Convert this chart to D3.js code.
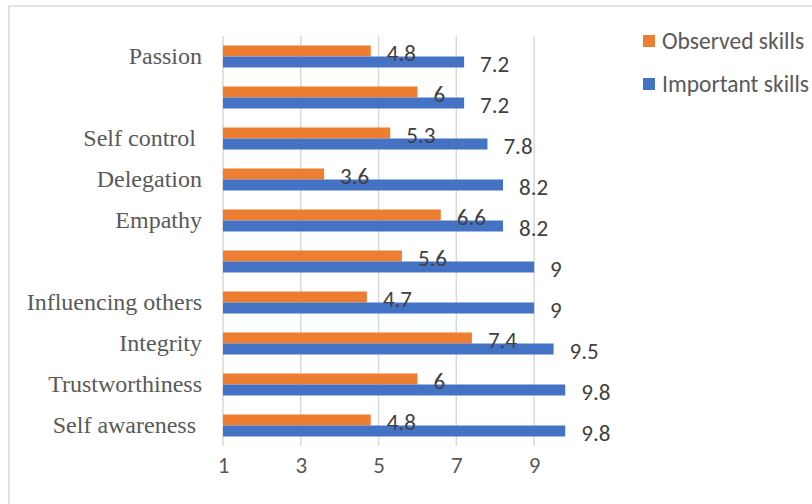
<!DOCTYPE html>
<html>
<head>
<meta charset="utf-8">
<script src="https://cdn.jsdelivr.net/npm/d3@7"></script>
<style>
  body { margin: 0; background: #fff; }
  svg { display: block; }
  text { white-space: pre; }
</style>
</head>
<body>
<div id="chart"></div>
<script>
// categories top to bottom (two are unlabeled in the source)
var skills = ['Passion', '', 'Self control ', 'Delegation', 'Empathy', '',
    'Influencing others', 'Integrity', 'Trustworthiness', 'Self awareness '];
var observed = [4.8, 6, 5.3, 3.6, 6.6, 5.6, 4.7, 7.4, 6, 4.8];
var important = [7.2, 7.2, 7.8, 8.2, 8.2, 9, 9, 9.5, 9.8, 9.8];
var seriesNames = ['Observed skills', 'Important skills'];
var xTicks = [1, 3, 5, 7, 9];

var W = 812, H = 504;
var ORANGE = '#ed7d31', BLUE = '#4472c4';
var SANS = 'Carlito, Calibri, "Open Sans", sans-serif';

var svg = d3.select('#chart').append('svg')
    .attr('width', W).attr('height', H);

// outer frame (clipped at right/bottom like the original)
svg.append('rect')
    .attr('x', 9).attr('y', 6)
    .attr('width', W + 20).attr('height', H + 20)
    .attr('fill', 'none').attr('stroke', '#d9d9d9').attr('stroke-width', 1.5);

var x = d3.scaleLinear().domain([1, 10]).range([223, 573]);
var y = d3.scaleBand().domain(d3.range(skills.length)).range([36, 446]);
var sub = d3.scaleBand().domain([0, 1]).range([0, 22]);
var barOffset = (y.bandwidth() - 22) / 2;

// gridlines
svg.append('g').selectAll('line')
    .data(xTicks)
    .enter().append('line')
    .attr('x1', function (d) { return x(d); })
    .attr('x2', function (d) { return x(d); })
    .attr('y1', 36).attr('y2', 446)
    .attr('stroke', '#d9d9d9').attr('stroke-width', 1.5);

// x axis labels
var xAxis = d3.axisBottom(x).tickValues(xTicks).tickSize(0).tickPadding(11);
var gx = svg.append('g').attr('transform', 'translate(0,446)').call(xAxis);
gx.select('.domain').remove();
gx.selectAll('text')
    .attr('font-family', SANS)
    .attr('font-size', 23).attr('fill', '#595959');

// category labels
var yAxis = d3.axisLeft(y).tickFormat(function (i) { return skills[i]; })
    .tickSize(0).tickPadding(21);
var gy = svg.append('g').attr('transform', 'translate(223,0)').call(yAxis);
gy.select('.domain').remove();
gy.selectAll('text')
    .attr('font-family', '"Liberation Serif", "Times New Roman", serif')
    .attr('font-size', 24).attr('fill', '#595959');

var series = [observed, important];
var colors = [ORANGE, BLUE];

var bars = svg.append('g');
var labels = svg.append('g');

series.forEach(function (vals, s) {
    bars.append('g').selectAll('rect')
        .data(vals)
        .enter().append('rect')
        .attr('x', x(1))
        .attr('y', function (d, i) { return y(i) + barOffset + sub(s); })
        .attr('width', function (d) { return x(d) - x(1); })
        .attr('height', sub.bandwidth())
        .attr('fill', colors[s]);

    labels.append('g').selectAll('text')
        .data(vals)
        .enter().append('text')
        .attr('x', function (d) { return x(d) + 16; })
        .attr('y', function (d, i) { return y(i) + barOffset + sub(s) + sub.bandwidth() / 2 + 2; })
        .attr('dy', '0.35em')
        .attr('font-family', SANS)
        .attr('font-size', 23).attr('fill', '#404040')
        .text(function (d) { return d; });
});

// legend
var legend = svg.append('g').selectAll('g')
    .data(seriesNames)
    .enter().append('g')
    .attr('transform', function (d, i) { return 'translate(643,' + (41 + i * 43) + ')'; });
legend.append('rect')
    .attr('x', 0).attr('y', -6).attr('width', 12).attr('height', 12)
    .attr('fill', function (d, i) { return colors[i]; });
legend.append('text')
    .attr('x', 19).attr('y', 0).attr('dy', '0.35em')
    .attr('font-family', SANS)
    .attr('font-size', 23.5).attr('fill', '#595959')
    .text(function (d) { return d; });
</script>
</body>
</html>
